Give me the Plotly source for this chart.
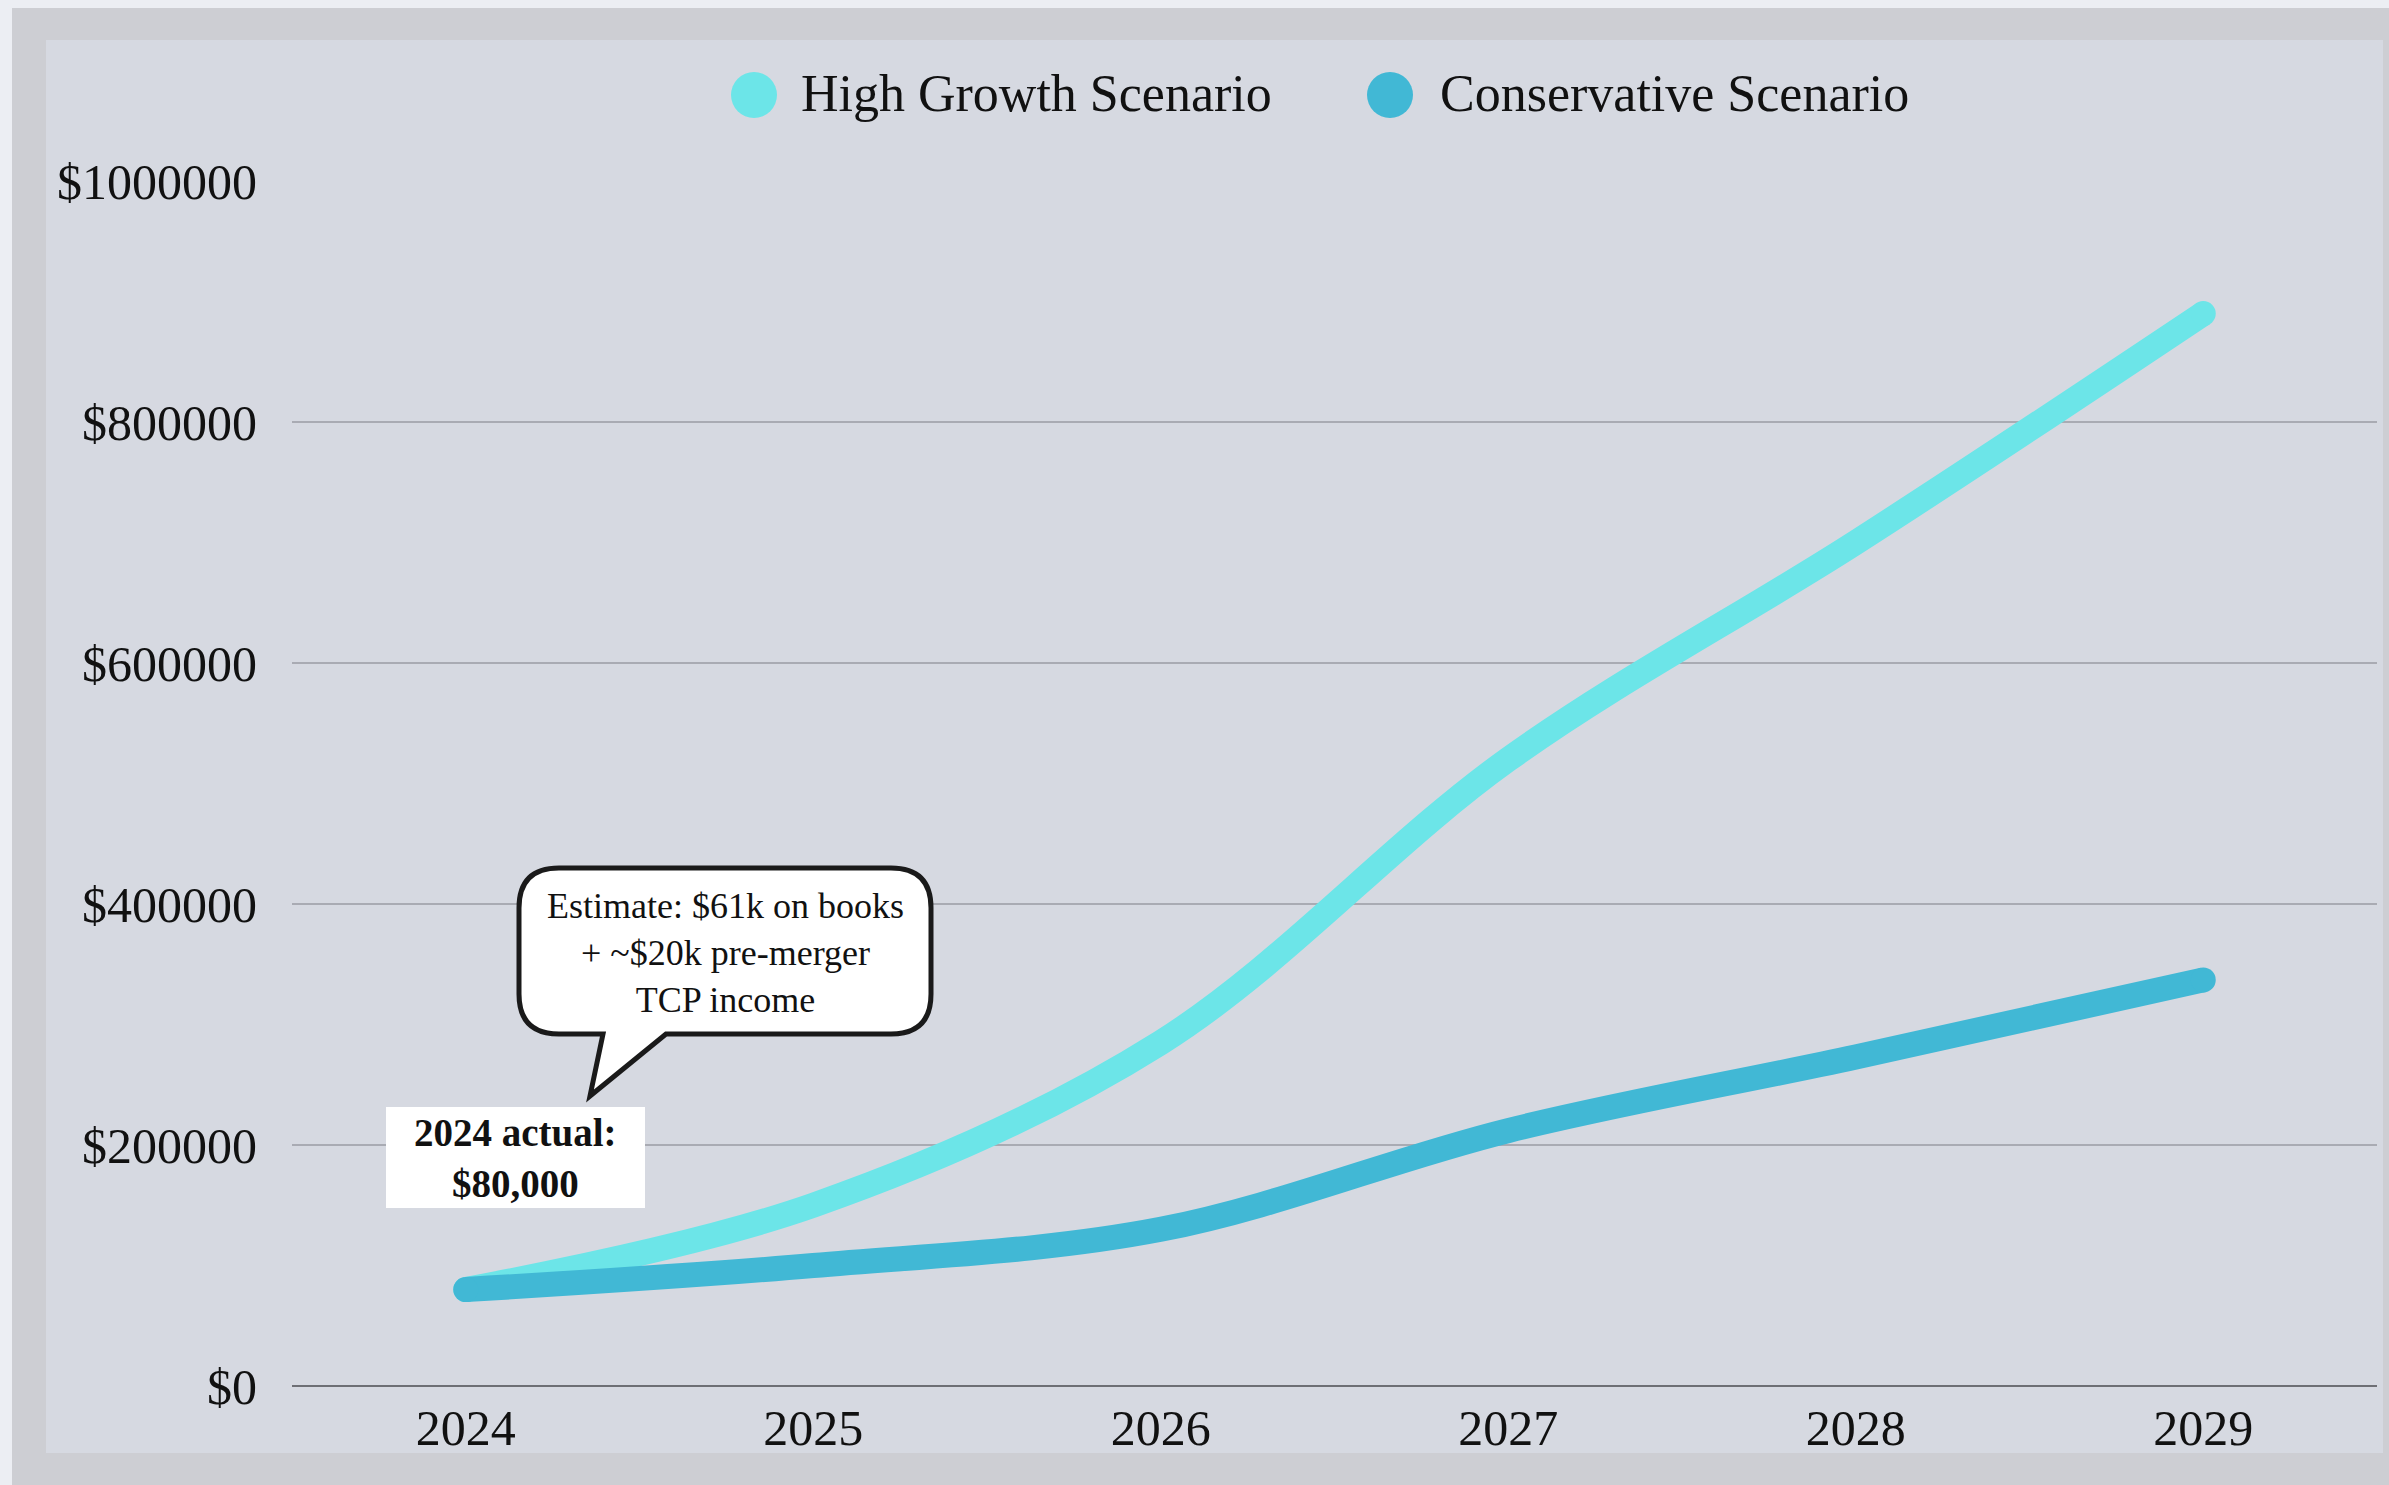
import plotly.graph_objects as go

# ---------------- data ----------------
years = ["2024", "2025", "2026", "2027", "2028", "2029"]
high_growth = [80000, 150000, 285000, 520000, 700000, 890000]
conservative = [80000, 100000, 130000, 212000, 273000, 337000]
y_ticks = [0, 200000, 400000, 600000, 800000, 1000000]
y_tick_labels = ["$0", "$200000", "$400000", "$600000", "$800000", "$1000000"]
series_names = ["High Growth Scenario", "Conservative Scenario"]
series_colors = ["#6CE5E8", "#41B8D5"]
callout_text = "Estimate: $61k on books<br>+ ~$20k pre-merger<br>TCP income"
actual_text = "<b>2024 actual:</b><br><b>$80,000</b>"

# ---------------- layout geometry (pixels) ----------------
W, H = 2389, 1485
ML, MR, MT, MB = 292, 12, 181, 99
PW = W - ML - MR
PH = H - MT - MB
FONT = "Liberation Serif"


def px(x):
    return (x - ML) / PW


def py(y):
    return (H - MB - y) / PH


fig = go.Figure()

for name, vals, col in zip(series_names, [high_growth, conservative], series_colors):
    sizes = [0] * len(vals)
    sizes[0] = 25
    sizes[-1] = 25
    fig.add_trace(go.Scatter(
        x=years, y=vals, name=name, mode="lines+markers",
        line=dict(color=col, width=25, shape="spline", smoothing=1.0),
        marker=dict(size=sizes, color=col, opacity=1, line=dict(width=0)),
        showlegend=False, hoverinfo="skip", cliponaxis=False,
    ))

shapes = []
# frame backgrounds
shapes.append(dict(type="rect", xref="paper", yref="paper",
                   x0=px(12), x1=px(W + 5), y0=py(H + 5), y1=py(8),
                   fillcolor="#CDCED3", line=dict(width=0), layer="below"))
shapes.append(dict(type="rect", xref="paper", yref="paper",
                   x0=px(46), x1=px(2383), y0=py(1453), y1=py(40),
                   fillcolor="#D6D9E1", line=dict(width=0), layer="below"))

# legend circles
for cx, col in zip([754, 1390], series_colors):
    r = 23
    shapes.append(dict(type="circle", xref="paper", yref="paper",
                       x0=px(cx - r), x1=px(cx + r), y0=py(95 + r), y1=py(95 - r),
                       fillcolor=col, line=dict(width=0)))

# white label box
shapes.append(dict(type="rect", xref="paper", yref="paper",
                   x0=px(386), x1=px(645), y0=py(1208), y1=py(1107),
                   fillcolor="white", line=dict(width=0), layer="above"))

# speech bubble
L, R, T, B, rad = 519, 931, 868, 1034, 40


def P(x, y):
    return f"{px(x):.6f},{py(y):.6f}"


path = (
    f"M {P(L + rad, T)} L {P(R - rad, T)} Q {P(R, T)} {P(R, T + rad)} "
    f"L {P(R, B - rad)} Q {P(R, B)} {P(R - rad, B)} "
    f"L {P(666, B)} L {P(590, 1096)} L {P(603, B)} "
    f"L {P(L + rad, B)} Q {P(L, B)} {P(L, B - rad)} "
    f"L {P(L, T + rad)} Q {P(L, T)} {P(L + rad, T)} Z"
)
shapes.append(dict(type="path", xref="paper", yref="paper", path=path,
                   fillcolor="white", line=dict(color="#1a1a1a", width=5), layer="above"))

annotations = [
    dict(x=px(799), y=py(93), xref="paper", yref="paper", text=series_names[0],
         showarrow=False, xanchor="left", yanchor="middle",
         font=dict(family=FONT, size=52, color="#111")),
    dict(x=px(1438), y=py(93), xref="paper", yref="paper", text=series_names[1],
         showarrow=False, xanchor="left", yanchor="middle",
         font=dict(family=FONT, size=52, color="#111")),
    dict(x=px(725), y=py(953), xref="paper", yref="paper", text=callout_text,
         showarrow=False, xanchor="center", yanchor="middle", align="center",
         font=dict(family=FONT, size=36, color="#111")),
    dict(x=px(515), y=py(1158), xref="paper", yref="paper", text=actual_text,
         showarrow=False, xanchor="center", yanchor="middle", align="center",
         font=dict(family=FONT, size=39, color="#111")),
]

fig.update_layout(
    width=W, height=H,
    margin=dict(l=ML, r=MR, t=MT, b=MB, pad=0),
    paper_bgcolor="#ECEEF3",
    plot_bgcolor="rgba(0,0,0,0)",
    shapes=shapes,
    annotations=annotations,
    showlegend=False,
    hovermode=False,
    font=dict(family=FONT, size=50, color="#111"),
)

fig.update_xaxes(
    type="category", range=[-0.5, 5.5], showgrid=False, zeroline=False,
    showline=False, ticks="", ticklabelstandoff=8,
    tickfont=dict(family=FONT, size=50, color="#111"),
)
fig.update_yaxes(
    range=[0, 1000000], tickmode="array", tickvals=y_ticks, ticktext=y_tick_labels,
    showgrid=True, gridcolor="#A9ABB3", gridwidth=2,
    zeroline=True, zerolinecolor="#6E6F75", zerolinewidth=2,
    showline=False, ticks="", ticklabelstandoff=34,
    tickfont=dict(family=FONT, size=50, color="#111"),
)

fig.write_html("out.html")
